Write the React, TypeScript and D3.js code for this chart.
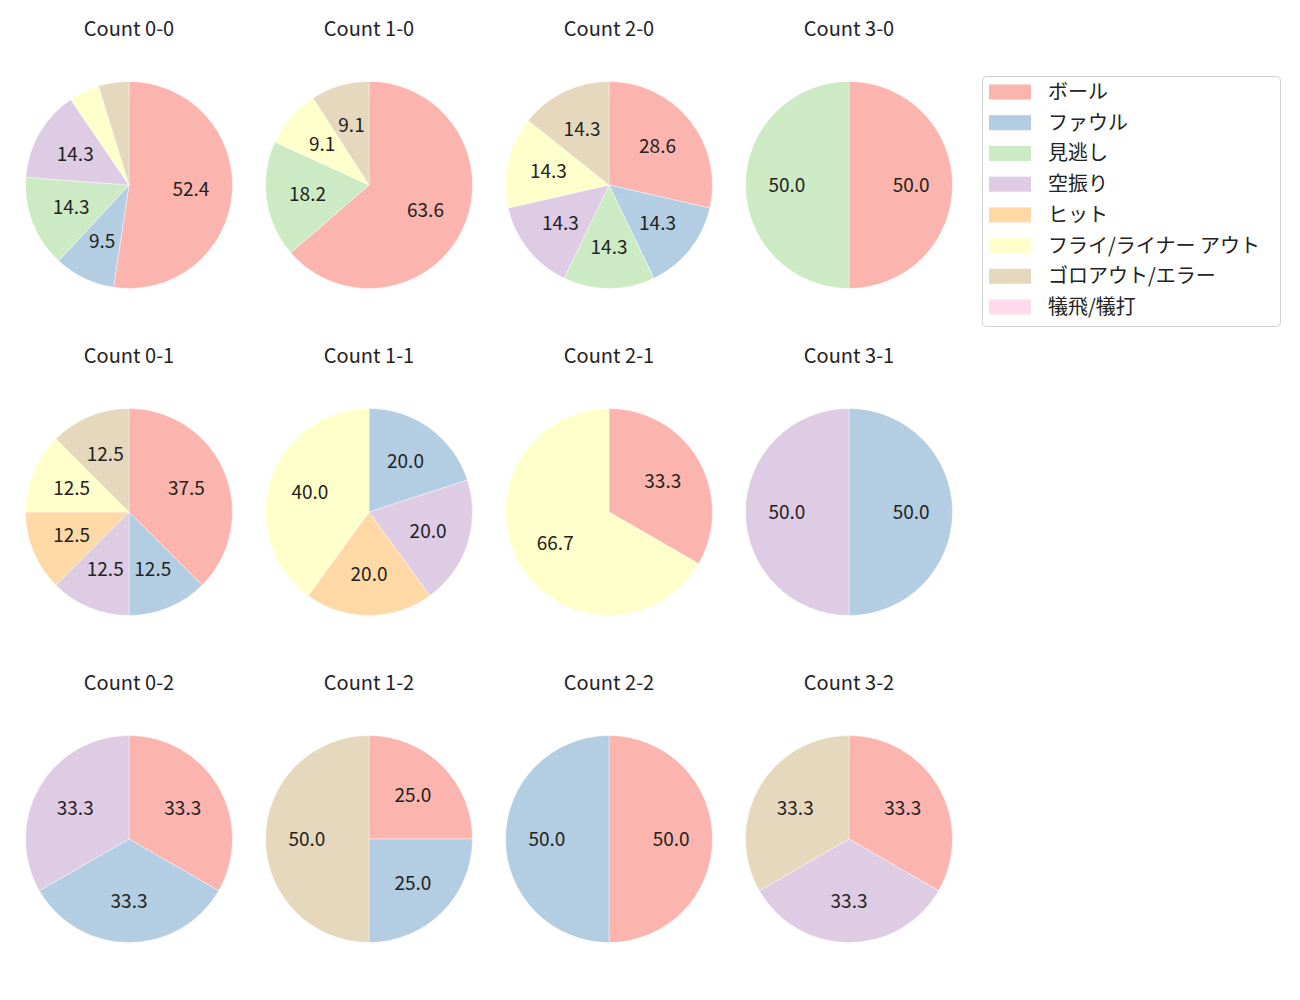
import React from 'react';
import * as d3 from 'd3';

const categories = ['ボール', 'ファウル', '見逃し', '空振り', 'ヒット', 'フライ/ライナー アウト', 'ゴロアウト/エラー', '犠飛/犠打'];
const colors = ['#fbb4ae', '#b3cde3', '#ccebc5', '#decbe4', '#fed9a6', '#ffffcc', '#e5d8bd', '#fddaec'];

const titles = [
  ['Count 0-0', 'Count 1-0', 'Count 2-0', 'Count 3-0'],
  ['Count 0-1', 'Count 1-1', 'Count 2-1', 'Count 3-1'],
  ['Count 0-2', 'Count 1-2', 'Count 2-2', 'Count 3-2'],
];

// pitch counts per category, in category order
const counts = [
  [[11, 2, 3, 3, 0, 1, 1, 0], [7, 0, 2, 0, 0, 1, 1, 0], [2, 1, 1, 1, 0, 1, 1, 0], [1, 0, 1, 0, 0, 0, 0, 0]],
  [[3, 1, 0, 1, 1, 1, 1, 0], [0, 1, 0, 1, 1, 2, 0, 0], [1, 0, 0, 0, 0, 2, 0, 0], [0, 1, 0, 1, 0, 0, 0, 0]],
  [[1, 1, 0, 1, 0, 0, 0, 0], [1, 1, 0, 0, 0, 0, 2, 0], [1, 1, 0, 0, 0, 0, 0, 0], [1, 0, 0, 1, 0, 0, 1, 0]],
];

const FONT = '"Noto Sans CJK JP", "Noto Sans", sans-serif';
const FS = 20;
const R = 103.5;
const colX = d3.scaleLinear().domain([0, 3]).range([129, 849]);
const rowY = d3.scaleLinear().domain([0, 2]).range([185, 839]);

const Pie: React.FC<{ values: number[]; title: string; cx: number; cy: number }> = ({ values, title, cx, cy }) => {
  const total = d3.sum(values);
  const arcs = d3.pie<number>().sort(null).value(d => d)(values);
  const arc = d3.arc<d3.PieArcDatum<number>>().innerRadius(0).outerRadius(R);
  const labelArc = d3.arc<d3.PieArcDatum<number>>().innerRadius(R * 0.6).outerRadius(R * 0.6);
  return (
    <g transform={`translate(${cx},${cy})`}>
      <text y={-149} textAnchor="middle" fontSize={FS} fill="#222" style={{ fontFamily: FONT }}>
        {title}
      </text>
      {arcs.map((a, i) => a.value > 0 && (
        <path key={i} d={arc(a) || ''} fill={colors[i]} stroke="#fff" strokeWidth={0.4} />
      ))}
      {arcs.map((a, i) => {
        const pct = (a.value / total) * 100;
        if (pct < 5) return null;
        const [lx, ly] = labelArc.centroid(a);
        return (
          <text key={'t' + i} x={lx} y={ly} dy="0.35em" textAnchor="middle" fontSize={19} fill="#222" style={{ fontFamily: FONT }}>
            {pct.toFixed(1)}
          </text>
        );
      })}
    </g>
  );
};

const App: React.FC = () => {
  const legendY = d3.scaleLinear().domain([0, categories.length - 1]).range([92, 307]);
  return (
    <svg width={1300} height={1000} style={{ position: 'absolute', left: 0, top: 0, background: '#fff' }}>
      {titles.map((row, r) => row.map((t, c) => (
        <Pie key={t} title={t} values={counts[r][c]} cx={colX(c)} cy={rowY(r)} />
      )))}
      <rect x={982.5} y={76.5} width={298} height={250} rx={4} fill="#fff" stroke="#d0d0d0" />
      {categories.map((cat, i) => (
        <g key={cat} transform={`translate(0,${legendY(i)})`}>
          <rect x={989} y={-7.5} width={42} height={15} fill={colors[i]} />
          <text x={1048} dy="0.35em" fontSize={FS} fill="#222" style={{ fontFamily: FONT }}>{cat}</text>
        </g>
      ))}
    </svg>
  );
};

export default App;
